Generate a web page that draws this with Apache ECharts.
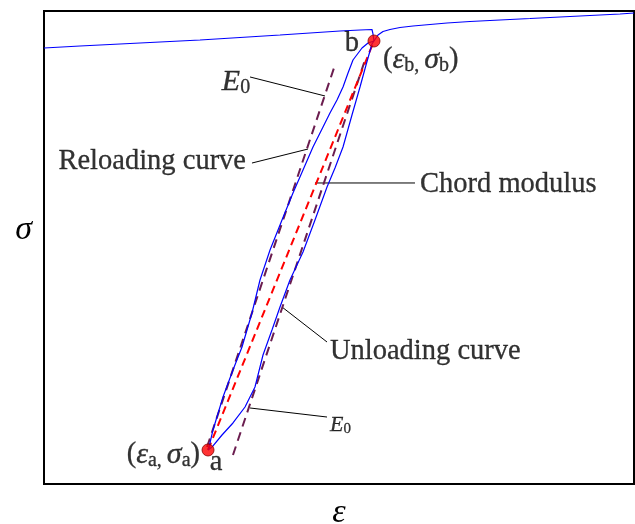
<!DOCTYPE html>
<html>
<head>
<meta charset="utf-8">
<script src="https://cdn.jsdelivr.net/npm/echarts@6/dist/echarts.min.js"></script>
<style>
  html, body { margin: 0; padding: 0; background: #fff; }
  #chart { width: 635px; height: 524px; }
</style>
</head>
<body>
<div id="chart"></div>
<script>
// Cyclic loading test: strain (x) vs stress (y), normalised units 0..100.

// Monotonic loading up to the start of unloading
const loadingBranch = [
  [0, 92.18], [6.10, 92.60], [12.88, 93.02], [19.66, 93.45], [26.44, 93.87],
  [33.22, 94.40], [40.00, 94.93], [45.08, 95.35], [50.17, 95.77], [53.56, 95.98],
  [55.59, 96.09], [55.76, 95.14], [55.93, 93.66]
];

// Unloading from b down to a
const unloadingBranch = [
  [55.93, 93.66], [55.59, 93.02], [54.58, 88.58], [53.56, 83.93], [52.20, 78.01],
  [50.68, 71.25], [49.32, 66.81], [47.97, 62.79], [45.93, 55.81], [43.90, 49.05],
  [41.69, 43.13], [40.00, 37.42], [38.64, 32.56], [37.12, 27.27], [35.76, 20.51],
  [34.07, 16.28], [32.03, 12.90], [30.17, 10.36], [28.47, 7.82], [27.80, 7.19]
];

// Reloading from a back up to b
const reloadingBranch = [
  [27.80, 7.19], [28.14, 8.67], [28.64, 11.42], [30.34, 18.39], [32.03, 24.10],
  [33.56, 28.96], [35.25, 36.15], [36.61, 43.13], [38.31, 49.47], [40.34, 55.81],
  [42.20, 61.52], [43.90, 66.38], [45.59, 71.25], [47.29, 75.48], [48.47, 78.44],
  [49.66, 81.18], [50.68, 83.93], [51.53, 86.89], [52.37, 89.64], [53.90, 92.18],
  [54.92, 93.23], [55.93, 93.66]
];

// Loading continues after reloading
const continuationBranch = [
  [55.93, 93.66], [56.61, 94.93], [57.46, 95.67], [58.64, 96.09], [60.34, 96.51],
  [62.54, 96.83], [65.42, 97.15], [68.31, 97.46], [72.20, 97.78], [77.29, 98.10],
  [82.37, 98.41], [87.46, 98.73], [92.54, 99.05], [97.63, 99.37], [100, 99.58]
];

// Characteristic points a and b
const pointA = [27.80, 7.19];
const pointB = [55.93, 93.66];

// Initial modulus E0 lines (two parallel lines)
const e0Upper = [[27.63, 7.82], [49.32, 88.58]];
const e0Lower = [[32.03, 6.13], [54.41, 89.64]];

// Chord modulus line a -> b
const chordLine = [pointA, pointB];

// Leader lines for annotations
const leaders = [
  [[34.92, 86.05], [47.63, 82.03]],
  [[35.25, 67.86], [44.75, 70.82]],
  [[45.93, 63.64], [62.88, 63.64]],
  [[40.34, 37.42], [47.97, 30.02]],
  [[34.92, 16.07], [47.97, 14.16]]
];

const serif = '"Liberation Serif", "Times New Roman", serif';
const ink = { color: '#000', textBorderColor: '#000', textBorderWidth: 0.3 };
const rich = {
  n: Object.assign({ fontFamily: serif, fontSize: 28.5, lineHeight: 32, verticalAlign: 'middle' }, ink),
  i: Object.assign({ fontFamily: serif, fontSize: 30, fontStyle: 'italic', lineHeight: 32, verticalAlign: 'middle' }, ink),
  s: Object.assign({ fontFamily: serif, fontSize: 20, lineHeight: 19, verticalAlign: 'bottom' }, ink),
  ni: Object.assign({ fontFamily: serif, fontSize: 22, fontStyle: 'italic', lineHeight: 24, verticalAlign: 'middle' }, ink),
  ns: Object.assign({ fontFamily: serif, fontSize: 15, lineHeight: 15, verticalAlign: 'bottom' }, ink)
};

// Annotation texts, anchored in data coordinates
const annotations = [
  { value: [32.54, 84.99], text: '{i|E}{s|0}', align: 'center' },
  { value: [34.24, 68.08], text: '{n|Reloading curve}', align: 'right' },
  { value: [63.73, 63.42], text: '{n|Chord modulus}', align: 'left' },
  { value: [48.47, 27.91], text: '{n|Unloading curve}', align: 'left' },
  { value: [48.47, 12.47], text: '{ni|E}{ns|0}', align: 'left' },
  { value: [57.46, 89.64], text: '{n|(}{i|ε}{s|b, }{i|σ}{s|b}{n|)}', align: 'left' },
  { value: [52.20, 93.02], text: '{n|b}', align: 'center' },
  { value: [26.44, 6.13], text: '{n|(}{i|ε}{s|a, }{i|σ}{s|a}{n|)}', align: 'right' },
  { value: [29.15, 4.44], text: '{n|a}', align: 'center' }
];

const curveStyle = { color: '#0000ff', width: 1.2 };
const e0Style = { color: '#6b1d4f', width: 2, type: [9, 6] };

const series = [];
[loadingBranch, unloadingBranch, reloadingBranch, continuationBranch].forEach(function (d) {
  series.push({ type: 'line', data: d, showSymbol: false, lineStyle: curveStyle, silent: true, z: 3 });
});
[e0Upper, e0Lower].forEach(function (d) {
  series.push({ type: 'line', data: d, showSymbol: false, lineStyle: e0Style, silent: true, z: 2 });
});
series.push({
  type: 'line', data: chordLine, showSymbol: false, silent: true, z: 2,
  lineStyle: { color: '#ff0000', width: 2, type: [8, 5] }
});
leaders.forEach(function (d) {
  series.push({ type: 'line', data: d, showSymbol: false, silent: true, z: 1, lineStyle: { color: '#000', width: 1 } });
});
series.push({
  type: 'scatter', data: [pointA, pointB], symbol: 'circle', symbolSize: 12, z: 5, silent: true,
  itemStyle: { color: '#ff0000', borderColor: '#8b0000', borderWidth: 1 }
});
series.push({
  type: 'scatter', symbolSize: 0, z: 6, silent: true,
  data: annotations.map(function (a) {
    return {
      value: a.value,
      label: { show: true, position: 'inside', color: '#000', formatter: a.text, rich: rich, align: a.align, verticalAlign: 'middle' }
    };
  })
});

const chart = echarts.init(document.getElementById('chart'));
chart.setOption({
  animation: false,
  backgroundColor: '#fff',
  grid: {
    left: 44, right: 1, top: 11, bottom: 40, show: true, borderColor: '#000', borderWidth: 2,
    outerBoundsMode: 'none', containLabel: false
  },
  xAxis: {
    type: 'value', min: 0, max: 100,
    name: 'ε', nameLocation: 'middle', nameGap: 12,
    nameTextStyle: { fontFamily: serif, fontSize: 34, fontStyle: 'italic', color: '#000' },
    axisLine: { show: false }, axisTick: { show: false }, axisLabel: { show: false }, splitLine: { show: false }
  },
  yAxis: {
    type: 'value', min: 0, max: 100,
    name: 'σ', nameLocation: 'middle', nameGap: 12, nameRotate: 0,
    nameTextStyle: { fontFamily: serif, fontSize: 34, fontStyle: 'italic', color: '#000', verticalAlign: 'bottom' },
    axisLine: { show: false }, axisTick: { show: false }, axisLabel: { show: false }, splitLine: { show: false }
  },
  series: series
});
</script>
</body>
</html>
